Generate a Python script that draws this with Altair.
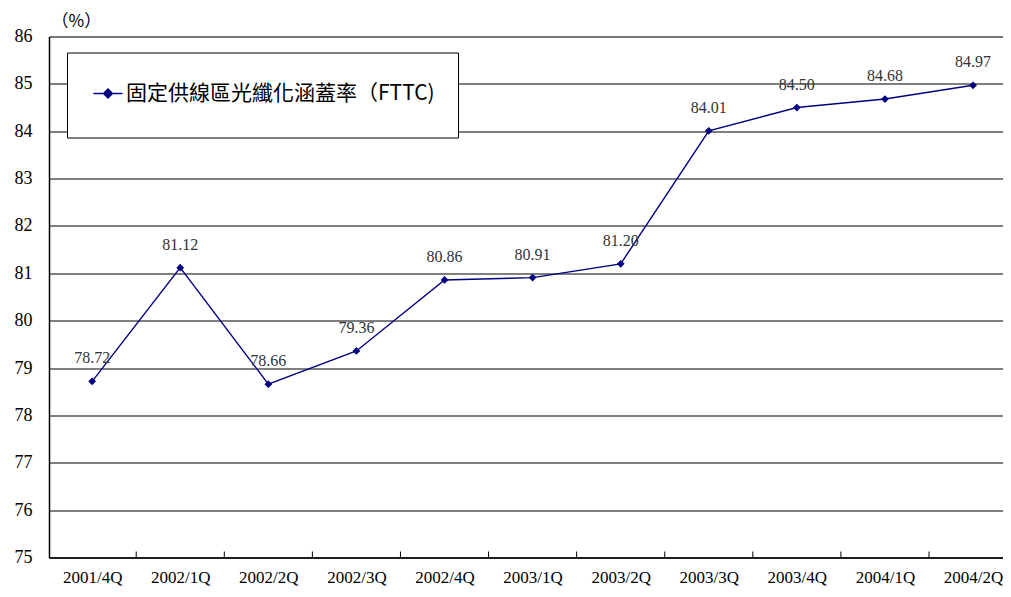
import altair as alt
import pandas as pd

categories = ["2001/4Q", "2002/1Q", "2002/2Q", "2002/3Q", "2002/4Q", "2003/1Q",
              "2003/2Q", "2003/3Q", "2003/4Q", "2004/1Q", "2004/2Q"]
values = [78.72, 81.12, 78.66, 79.36, 80.86, 80.91, 81.20, 84.01, 84.50, 84.68, 84.97]
labels = ["78.72", "81.12", "78.66", "79.36", "80.86", "80.91", "81.20", "84.01", "84.50", "84.68", "84.97"]
series_name = "固定供線區光纖化涵蓋率（FTTC)"

df = pd.DataFrame({
    "idx": list(range(len(categories))),
    "cat": categories,
    "value": values,
    "label": labels,
    "series": [series_name] * len(categories),
})
sep_df = pd.DataFrame({"sep": [i + 0.5 for i in range(len(categories) - 1)]})

W, H = 954, 521
NAVY = "#000080"
SERIF = "Liberation Serif, Times New Roman, serif"
CJK = "Noto Sans CJK TC"

cat_js = "[" + ",".join("'" + c + "'" for c in categories) + "]"

x_scale = alt.Scale(domain=[-0.49, 10.34], nice=False, zero=False)
y_scale = alt.Scale(domain=[75, 86], nice=False, zero=False)

x_axis = alt.Axis(values=list(range(len(categories))), labelExpr=cat_js + "[datum.value]",
                  ticks=False, grid=False, domain=True, domainColor="#000", domainWidth=1.5,
                  labelFont=SERIF, labelFontSize=17, labelColor="#000", labelPadding=12,
                  title=None)
y_axis = alt.Axis(values=list(range(75, 87)), grid=True, gridColor="#000", gridWidth=1,
                  ticks=False, domain=True, domainColor="#000", domainWidth=1.5,
                  labelFont=SERIF, labelFontSize=18, labelColor="#000", labelPadding=17,
                  title="（%）", titleAngle=0, titleAlign="left", titleBaseline="middle",
                  titleX=2, titleY=-15, titleFont=CJK, titleFontSize=17,
                  titleFontWeight="normal", titleColor="#000")

base = alt.Chart(df)

line = base.mark_line(color=NAVY, strokeWidth=1.4).encode(
    x=alt.X("idx:Q", scale=x_scale, axis=x_axis),
    y=alt.Y("value:Q", scale=y_scale, axis=y_axis),
)

legend_symbol = ("M-0.85,0L0.85,0M0,-0.26L0.26,0L0,0.26L-0.26,0Z"
                 "M-0.85,-1.05L-0.85,-1.05M-0.85,1.05L-0.85,1.05")

points = base.mark_point(shape="diamond", filled=True, size=60, opacity=1).encode(
    x="idx:Q",
    y="value:Q",
    color=alt.Color("series:N", scale=alt.Scale(domain=[series_name], range=[NAVY]),
                    legend=alt.Legend(title=None, orient="none", legendX=18, legendY=16,
                                      symbolType=legend_symbol, symbolSize=1156,
                                      symbolStrokeColor=NAVY, symbolStrokeWidth=1.5,
                                      symbolFillColor=NAVY,
                                      labelFont=CJK, labelFontSize=21, labelColor="#000",
                                      labelOffset=0, labelLimit=600,
                                      padding=23, strokeColor="#000", fillColor="#fff")),
)

text = base.mark_text(font=SERIF, fontSize=16, color="#333", dy=-23, baseline="middle").encode(
    x="idx:Q",
    y="value:Q",
    text="label:N",
)

ticks = alt.Chart(sep_df).mark_rule(color="#000", strokeWidth=1).encode(
    x=alt.X("sep:Q", scale=x_scale),
    y=alt.value(H - 6),
    y2=alt.value(H),
)

chart = alt.layer(ticks, line, points, text).properties(
    width=W, height=H,
    autosize=alt.AutoSizeParams(type="none"),
    padding={"left": 41, "top": 28.5, "right": 0, "bottom": 31},
).configure_view(stroke=None).configure(background="#fff")

chart.save("out.html", embed_options={"renderer": "svg", "actions": False})
